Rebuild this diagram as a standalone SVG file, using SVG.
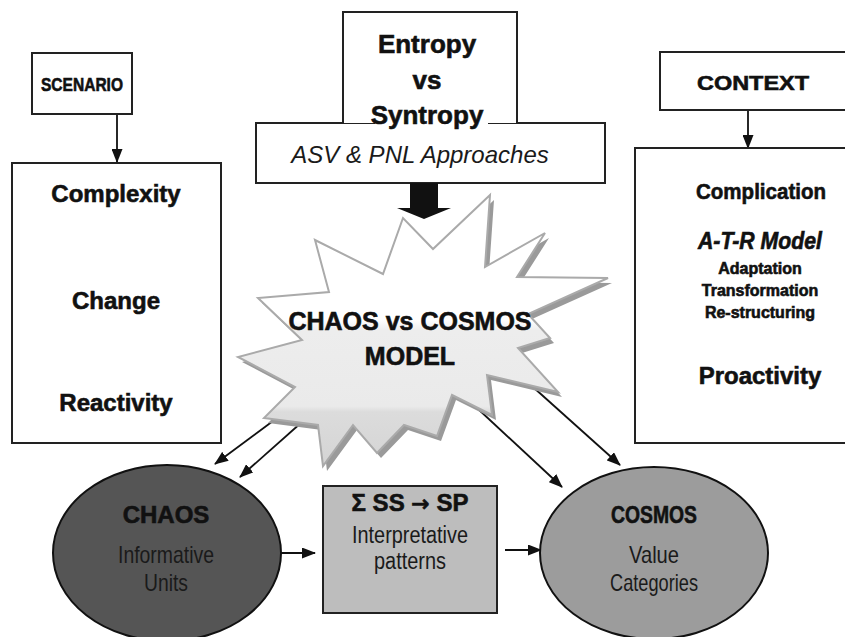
<svg xmlns="http://www.w3.org/2000/svg" width="845" height="637" viewBox="0 0 845 637">
<style>
.box{fill:#fff;stroke:#222;stroke-width:2}
.b{font-family:"Liberation Sans",Arial,sans-serif;font-weight:bold;fill:#111;stroke:#111;stroke-width:0.6;text-anchor:middle}
.l{font-family:"Liberation Sans",Arial,sans-serif;font-weight:normal;fill:#1a1a1a;text-anchor:middle}
.con{stroke:#111;stroke-width:1.8;fill:none}
</style>
<defs>
<marker id="ah" viewBox="0 0 14 11" refX="13" refY="5.5" markerWidth="14" markerHeight="11" markerUnits="userSpaceOnUse" orient="auto">
<path d="M0,0 L14,5.5 L0,11 z" fill="#111"/>
</marker>
<linearGradient id="burst" gradientUnits="userSpaceOnUse" x1="0" y1="195" x2="0" y2="466">
<stop offset="0" stop-color="#fff"/>
<stop offset="0.46" stop-color="#fff"/>
<stop offset="0.5" stop-color="#ededed"/>
<stop offset="0.78" stop-color="#eaeaea"/>
<stop offset="0.8" stop-color="#dcdcdc"/>
<stop offset="1" stop-color="#d4d4d4"/>
</linearGradient>
</defs>
<rect width="845" height="637" fill="#fff"/>

<g id="connectors">
<line class="con" x1="117" y1="114" x2="117" y2="162" marker-end="url(#ah)"/>
<line class="con" x1="748" y1="110" x2="748" y2="148" marker-end="url(#ah)"/>
<line class="con" x1="273" y1="421" x2="215" y2="464" marker-end="url(#ah)"/>
<line class="con" x1="302" y1="422" x2="240" y2="477" marker-end="url(#ah)"/>
<line class="con" x1="477" y1="408" x2="562" y2="487" marker-end="url(#ah)"/>
<line class="con" x1="533" y1="387" x2="620" y2="465" marker-end="url(#ah)"/>
<line class="con" x1="281" y1="553" x2="315" y2="553" marker-end="url(#ah)"/>
<line class="con" x1="505" y1="550" x2="541" y2="550" marker-end="url(#ah)"/>
</g>

<g id="scenario">
<rect class="box" x="32" y="53" width="100" height="61"/>
<text class="b" x="82" y="91" font-size="19" textLength="82" lengthAdjust="spacingAndGlyphs">SCENARIO</text>
</g>

<g id="scenario-detail">
<rect class="box" x="12" y="163" width="209" height="280"/>
<text class="b" x="116" y="202" font-size="24">Complexity</text>
<text class="b" x="116" y="309" font-size="24">Change</text>
<text class="b" x="116" y="411" font-size="24">Reactivity</text>
</g>

<g id="approaches">
<rect class="box" x="256" y="123" width="349" height="60"/>
<text class="l" x="420" y="163" font-size="24" font-style="italic">ASV &amp; PNL Approaches</text>
</g>

<g id="entropy">
<path d="M343,123 V12 H517 V123" fill="#fff" stroke="#222" stroke-width="2"/>
<rect x="375" y="117" width="113" height="9" fill="#fff"/>
<text class="b" x="427" y="53" font-size="26">Entropy</text>
<text class="b" x="427" y="89" font-size="26">vs</text>
<text class="b" x="427" y="124" font-size="26">Syntropy</text>
</g>

<g id="context">
<rect class="box" x="660" y="52" width="200" height="58"/>
<text class="b" x="753" y="90" font-size="21" textLength="112" lengthAdjust="spacingAndGlyphs">CONTEXT</text>
</g>

<g id="context-detail">
<rect class="box" x="635" y="148" width="230" height="295"/>
<text class="b" x="761" y="199" font-size="22" textLength="130" lengthAdjust="spacingAndGlyphs">Complication</text>
<text class="b" x="760" y="249" font-size="23" font-style="italic" textLength="124" lengthAdjust="spacingAndGlyphs">A-T-R Model</text>
<text class="b" x="760" y="274" font-size="16">Adaptation</text>
<text class="b" x="760" y="296" font-size="16">Transformation</text>
<text class="b" x="760" y="318" font-size="16">Re-structuring</text>
<text class="b" x="760" y="384" font-size="24">Proactivity</text>
</g>

<g id="big-arrow">
<polygon points="410,183 438,183 438,208 451,208 424,219 397,208 410,208" fill="#111"/>
</g>

<g id="model">
<polygon transform="translate(4,5)" fill="#9a9a9a" points="490,195 485,267 545,233 517,277 608,278 528,314 550,338 518,348 558,392 487,375 492,415 452,395 437,436 404,425 377,453 353,425 323,466 318,425 264,418 295,387 238,357 302,340 258,298 329,292 315,240 383,274 403,218 433,249"/>
<polygon fill="url(#burst)" stroke="#aaa" stroke-width="2" points="490,195 485,267 545,233 517,277 608,278 528,314 550,338 518,348 558,392 487,375 492,415 452,395 437,436 404,425 377,453 353,425 323,466 318,425 264,418 295,387 238,357 302,340 258,298 329,292 315,240 383,274 403,218 433,249"/>
<text class="b" x="410" y="330" font-size="25">CHAOS vs COSMOS</text>
<text class="b" x="410" y="365" font-size="25">MODEL</text>
</g>

<g id="chaos">
<ellipse cx="167" cy="553" rx="114" ry="88" fill="#555" stroke="#111" stroke-width="2"/>
<text class="b" x="166" y="523" font-size="24">CHAOS</text>
<text class="l" x="166" y="563" font-size="24" textLength="96" lengthAdjust="spacingAndGlyphs">Informative</text>
<text class="l" x="166" y="591" font-size="24" textLength="44" lengthAdjust="spacingAndGlyphs">Units</text>
</g>

<g id="patterns">
<rect x="323" y="486" width="174" height="127" fill="#bdbdbd" stroke="#222" stroke-width="2"/>
<text class="b" x="410" y="511" font-size="24">Σ SS <tspan font-family="DejaVu Sans" font-size="22">→</tspan> SP</text>
<text class="l" x="410" y="543" font-size="23" textLength="116" lengthAdjust="spacingAndGlyphs">Interpretative</text>
<text class="l" x="410" y="569" font-size="23" textLength="72" lengthAdjust="spacingAndGlyphs">patterns</text>
</g>

<g id="cosmos">
<ellipse cx="654" cy="553" rx="114" ry="86" fill="#9c9c9c" stroke="#111" stroke-width="2"/>
<text class="b" x="654" y="523" font-size="24" textLength="86" lengthAdjust="spacingAndGlyphs">COSMOS</text>
<text class="l" x="654" y="563" font-size="24" textLength="50" lengthAdjust="spacingAndGlyphs">Value</text>
<text class="l" x="654" y="591" font-size="24" textLength="88" lengthAdjust="spacingAndGlyphs">Categories</text>
</g>
</svg>
